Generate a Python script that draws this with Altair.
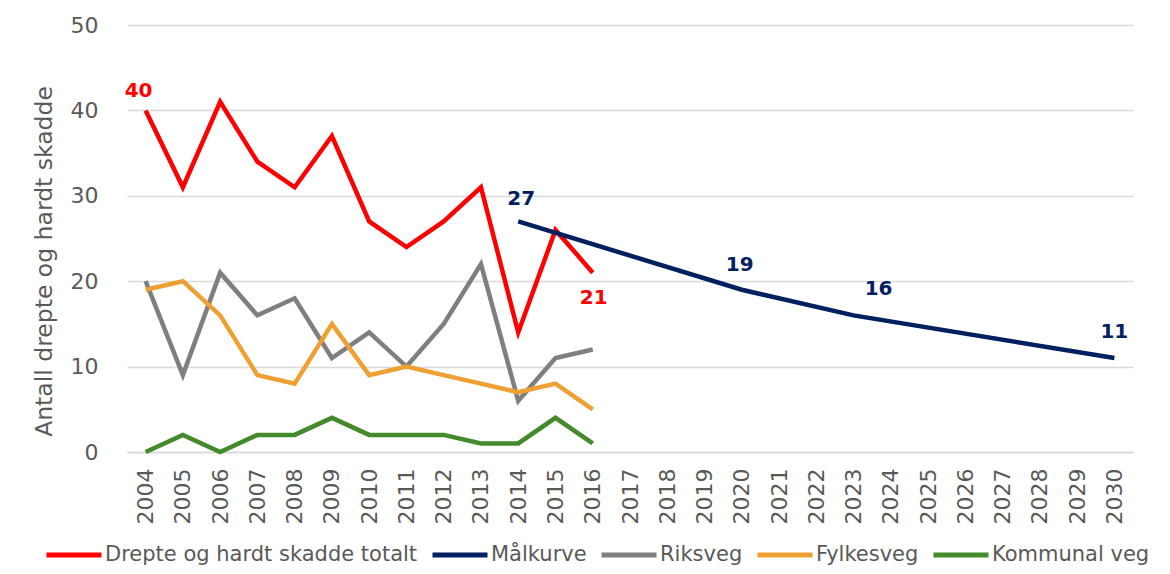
import altair as alt
import pandas as pd

years = [str(y) for y in range(2004, 2031)]
obs_years = [str(y) for y in range(2004, 2017)]

totalt = [40, 31, 41, 34, 31, 37, 27, 24, 27, 31, 14, 26, 21]
riksveg = [20, 9, 21, 16, 18, 11, 14, 10, 15, 22, 6, 11, 12]
fylkesveg = [19, 20, 16, 9, 8, 15, 9, 10, 9, 8, 7, 8, 5]
kommunal = [0, 2, 0, 2, 2, 4, 2, 2, 2, 1, 1, 4, 1]
mal_years = ["2014", "2020", "2023", "2030"]
mal_values = [27, 19, 16, 11]

series_names = ["Drepte og hardt skadde totalt", "Målkurve", "Riksveg", "Fylkesveg", "Kommunal veg"]
series_colors = ["#FF0000", "#002060", "#7F7F7F", "#F0A032", "#438A2A"]

rows = []
for name, vals in [("Drepte og hardt skadde totalt", totalt), ("Riksveg", riksveg),
                   ("Fylkesveg", fylkesveg), ("Kommunal veg", kommunal)]:
    for y, v in zip(obs_years, vals):
        rows.append({"År": y, "Verdi": v, "Serie": name})
for y, v in zip(mal_years, mal_values):
    rows.append({"År": y, "Verdi": v, "Serie": "Målkurve"})
df = pd.DataFrame(rows)

FONT = "DejaVu Sans"
xscale = alt.Scale(type="point", domain=years, padding=0.5)

x = alt.X("År:O", scale=xscale,
          axis=alt.Axis(title=None, labelAngle=-90, labelFontSize=22, labelColor="#595959",
                        labelPadding=16, ticks=False, domain=True, domainColor="#D9D9D9",
                        domainWidth=1.5, grid=False, labelFont=FONT, labelBaseline="middle"))
y = alt.Y("Verdi:Q", scale=alt.Scale(domain=[0, 50]),
          axis=alt.Axis(title="Antall drepte og hardt skadde", values=[0, 10, 20, 30, 40, 50],
                        titleFontSize=23.5, titleFontWeight="normal", titleColor="#595959",
                        titleFont=FONT, titleX=-83, titleY=236, titleAngle=270,
                        titleAlign="center", titleBaseline="middle",
                        labelFontSize=22, labelColor="#595959", labelFont=FONT, labelPadding=29,
                        ticks=False, domain=False, gridColor="#D9D9D9", gridWidth=1.5))

lines = alt.Chart(df).mark_line(strokeWidth=4.5).encode(
    x=x, y=y,
    color=alt.Color("Serie:N", scale=alt.Scale(domain=series_names, range=series_colors),
                    sort=series_names,
                    legend=alt.Legend(title=None, orient="none", legendX=-83, legendY=500,
                                      direction="horizontal",
                                      symbolType="stroke", symbolStrokeWidth=5, symbolSize=3025,
                                      labelFontSize=21, labelColor="#595959", labelFont=FONT,
                                      labelLimit=0, columnPadding=4, symbolOffset=0,
                                      labelOffset=1)),
)

def label(year, value, color, dx, dy):
    d = pd.DataFrame({"År": [year], "Verdi": [value], "txt": [str(value)]})
    return alt.Chart(d).mark_text(color=color, fontSize=20, fontWeight="bold", font=FONT,
                                  dx=dx, dy=dy, align="center", baseline="middle").encode(
        x=x, y=y, text="txt:N")

labels = [
    label("2004", totalt[0], "#FF0000", -7, -19),
    label("2016", totalt[-1], "#FF0000", 1, 25),
    label("2014", mal_values[0], "#002060", 3, -22),
    label("2020", mal_values[1], "#002060", -2, -25),
    label("2023", mal_values[2], "#002060", 25, -26),
    label("2030", mal_values[3], "#002060", 0, -26),
]

chart = alt.layer(lines, *labels).properties(
    width=1006, height=427,
    autosize=alt.AutoSizeParams(type="none"),
    padding={"left": 119, "top": 17, "right": 29, "bottom": 113}
).configure(font=FONT, view=alt.ViewConfig(stroke=None))

chart.save("out.html", embed_options={"renderer": "svg", "actions": False})
